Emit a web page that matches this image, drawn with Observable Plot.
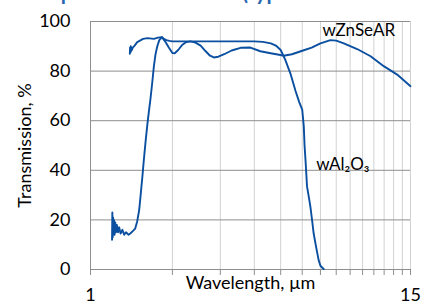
<!DOCTYPE html>
<html><head><meta charset="utf-8">
<script src="https://cdn.jsdelivr.net/npm/d3@7"></script>
<script src="https://cdn.jsdelivr.net/npm/@observablehq/plot@0.6"></script>
<style>
html,body{margin:0;padding:0;background:#fff;overflow:hidden;width:428px;height:306px;}
#wrap{position:relative;width:428px;height:306px;overflow:hidden;}
#title{position:absolute;left:44px;top:-21px;font:bold 21px Lato, sans-serif;color:#2a67b1;white-space:nowrap;}
#chart{position:absolute;left:0;top:0;}
</style></head><body>
<div id="wrap"><div id="chart"></div><div id="title">Optical Transmission (typical transmission spectra)</div></div>
<script>
// wAl2O3 series
const al2o3Wavelength = [1.200,1.203,1.207,1.211,1.215,1.220,1.226,1.233,1.240,1.250,1.262,1.275,1.29,1.31,1.33,1.35,1.38,1.40,1.43,1.46,1.485,1.51,1.53,1.55,1.57,1.595,1.62,1.64,1.66,1.685,1.71,1.735,1.76,1.79,1.83,1.86,1.90,1.95,2.0,2.2,2.5,3.0,3.5,4.0,4.3,4.6,4.8,5.0,5.2,5.43,5.67,5.85,6.0,6.08,6.12,6.17,6.25,6.35,6.43,6.52,6.61,6.75,6.9,7.0,7.1,7.2];
const al2o3Transmission = [12,23,13,21,15,20,14,19,15,18,15,17,14.5,16,14,15,14,14.5,15.5,16.5,19.5,24,30.5,37,44,52,59,64,68.5,75,82,87,90,92.5,93.7,93,92.5,92.2,92,92,92,92,92,92,91.8,91.2,90.3,88.5,84.5,79,72,67.5,64.5,57.7,50,44,33.4,29,25.3,20,14.5,9,3.6,1.5,0.8,0.2];
// wZnSeAR series
const znseWavelength = [1.395,1.398,1.402,1.406,1.41,1.415,1.42,1.43,1.45,1.485,1.52,1.56,1.62,1.71,1.77,1.83,1.88,1.94,2.0,2.04,2.1,2.17,2.25,2.33,2.43,2.54,2.65,2.75,2.84,2.95,3.1,3.3,3.56,3.87,4.21,4.59,4.99,5.13,5.5,6.08,6.5,7.0,7.62,8.0,8.53,9.55,10.7,11.96,13.4,15];
const znseTransmission = [87,89.5,87.5,90,88,89.5,88.5,89.5,90.2,91.7,92.3,93,93.3,93,93.5,93.7,92,89.5,87.3,87.2,88.5,90.5,91.7,92,91.5,90.3,88,86.2,85.5,85.8,86.8,88.3,89.4,89.5,88,87.2,86.5,86.2,86.8,88.4,89.5,91.2,92.5,92.3,91.2,88.9,86,82,78.6,73.9];
const xTicks = d3.range(1, 16);
const xTickLabels = [1, 15];
const yTicks = [0, 20, 40, 60, 80, 100];
const seriesNames = ["wZnSeAR", "wAl₂O₃"];

const al2o3 = al2o3Wavelength.map((x, i) => ({x, y: al2o3Transmission[i]}));
const znse = znseWavelength.map((x, i) => ({x, y: znseTransmission[i]}));
const blue = "#0b4fa0";

const chart = Plot.plot({
  width: 428, height: 306,
  marginLeft: 90, marginRight: 18, marginTop: 21, marginBottom: 37,
  style: {fontFamily: "Lato, sans-serif", fontSize: "18px", color: "#000", background: "#fff"},
  x: {type: "log", domain: [1, 15]},
  y: {domain: [0, 100]},
  marks: [
    Plot.ruleX(xTicks.filter(d => d > 1), {stroke: "#d2d2d2", strokeWidth: 1}),
    Plot.ruleY(yTicks, {stroke: "#8e8e8e", strokeWidth: 1}),
    Plot.ruleX([1], {stroke: "#8e8e8e", strokeWidth: 1}),
    Plot.axisX({ticks: xTicks, tickSize: 6, tickPadding: 13, stroke: "#8e8e8e", fill: "#000",
      tickFormat: d => xTickLabels.includes(d) ? String(d) : "",
      label: "Wavelength, µm", labelAnchor: "center", labelArrow: "none", labelOffset: 19}),
    Plot.axisY({ticks: yTicks, tickSize: 0, tickPadding: 20, fill: "#000",
      label: "Transmission, %", labelAnchor: "center", labelArrow: "none", labelOffset: 72}),
    Plot.line(al2o3, {x: "x", y: "y", stroke: blue, strokeWidth: 1.9}),
    Plot.line(znse, {x: "x", y: "y", stroke: blue, strokeWidth: 1.9}),
    Plot.text([{x: 7.13, y: 94.1, t: seriesNames[0]}], {x: "x", y: "y", text: "t", textAnchor: "start", lineAnchor: "bottom", fill: "#000", fontSize: 17}),
    Plot.text([{x: 6.75, y: 40, t: seriesNames[1]}], {x: "x", y: "y", text: "t", textAnchor: "start", lineAnchor: "bottom", fill: "#000", fontSize: 17})
  ]
});
document.getElementById("chart").appendChild(chart);
</script>
</body></html>
